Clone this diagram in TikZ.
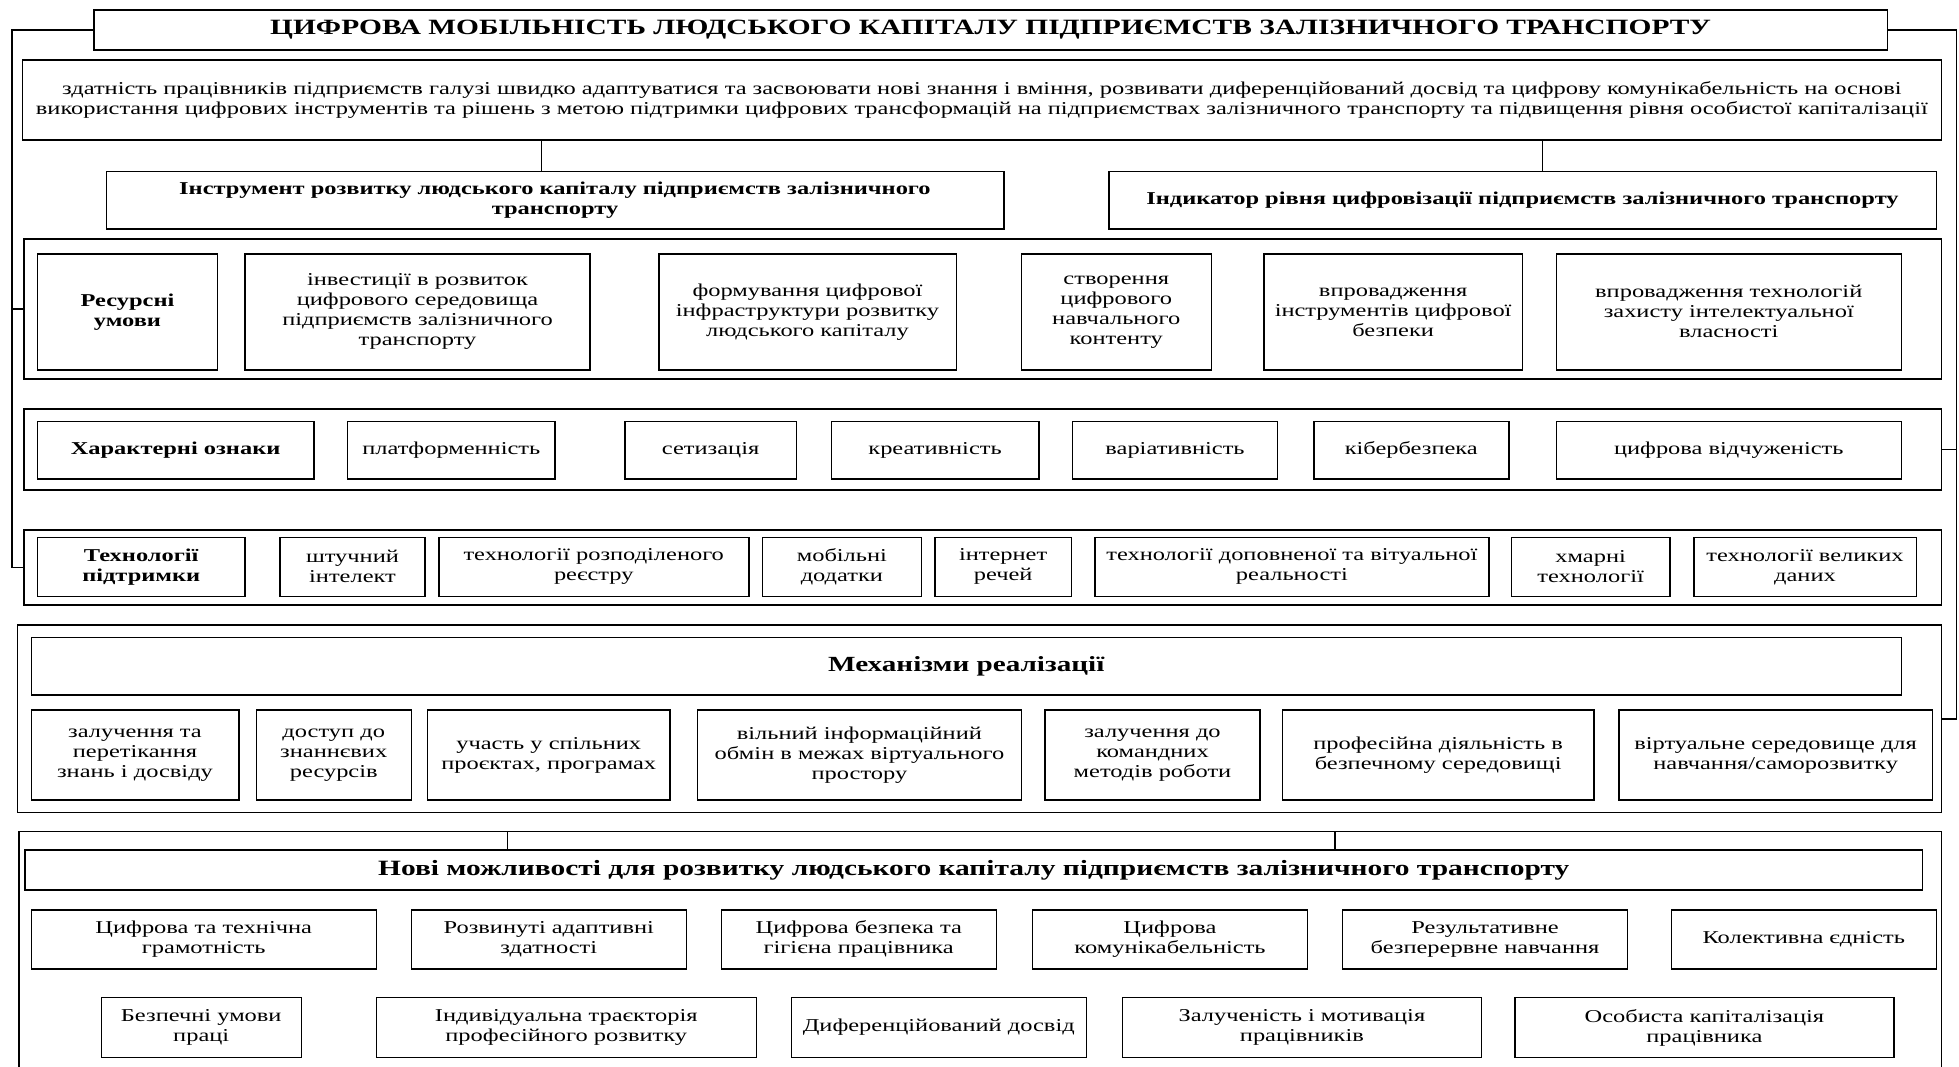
\documentclass[tikz,border=0pt]{standalone}
\usepackage{fontspec}
\setmainfont[FakeStretch=1.35]{Liberation Serif}
\begin{document}
\begin{tikzpicture}[x=1.25pt,y=-1.25pt,
  every node/.style={inner sep=2pt,outer sep=0pt},
  box/.style={draw=black,line width=1.5pt,fill=white,align=center,
    font=\fontsize{18.1}{20}\selectfont},
  bbox/.style={box,font=\fontsize{18.1}{20}\selectfont\bfseries},
  link/.style={draw=black,line width=1.5pt}]
\newcommand\bx[7][]{%
  \pgfmathsetmacro\cx{(#3+#5)/2}\pgfmathsetmacro\cy{(#4+#6)/2}%
  \pgfmathsetmacro\ww{(#5-#3)*1.25}\pgfmathsetmacro\hh{(#6-#4)*1.25}%
  \node[box,#1,minimum width=\ww pt,minimum height=\hh pt] (#2) at (\cx,\cy) {#7};}
\useasboundingbox (0,0) rectangle (1567.2,852.8);

% header and definition
\bx[bbox,font=\fontsize{21.8}{24}\selectfont\bfseries]{title}{75}{8}{1510}{40}{ЦИФРОВА МОБІЛЬНІСТЬ ЛЮДСЬКОГО КАПІТАЛУ ПІДПРИЄМСТВ ЗАЛІЗНИЧНОГО ТРАНСПОРТУ}
\bx{def}{18}{48}{1553}{112}{здатність працівників підприємств галузі швидко адаптуватися та засвоювати нові знання і вміння, розвивати диференційований досвід та цифрову комунікабельність на основі\\використання цифрових інструментів та рішень з метою підтримки цифрових трансформацій на підприємствах залізничного транспорту та підвищення рівня особистої капіталізації}
\bx[bbox]{instr}{85}{137}{803}{183}{Інструмент розвитку людського капіталу підприємств залізничного\\транспорту}
\bx[bbox]{indic}{887}{137}{1549}{183}{Індикатор рівня цифровізації підприємств залізничного транспорту}

% resource conditions
\bx{res}{19}{191}{1553}{303}{}
\bx[bbox]{res0}{30}{203}{174}{296}{Ресурсні\\умови}
\bx{res1}{196}{203}{472}{296}{інвестиції в розвиток\\цифрового середовища\\підприємств залізничного\\транспорту}
\bx{res2}{527}{203}{765}{296}{формування цифрової\\інфраструктури розвитку\\людського капіталу}
\bx{res3}{817}{203}{969}{296}{створення\\цифрового\\навчального\\контенту}
\bx{res4}{1011}{203}{1218}{296}{впровадження\\інструментів цифрової\\безпеки}
\bx{res5}{1245}{203}{1521}{296}{впровадження технологій\\захисту інтелектуальної\\власності}

% characteristic features
\bx{chr}{19}{327}{1553}{392}{}
\bx[bbox]{chr0}{30}{337}{251}{383}{Характерні ознаки}
\bx{chr1}{278}{337}{444}{383}{платформенність}
\bx{chr2}{500}{337}{637}{383}{сетизація}
\bx{chr3}{665}{337}{831}{383}{креативність}
\bx{chr4}{858}{337}{1022}{383}{варіативність}
\bx{chr5}{1051}{337}{1207}{383}{кібербезпека}
\bx{chr6}{1245}{337}{1521}{383}{цифрова відчуженість}

% supporting technologies
\bx{tec}{19}{424}{1553}{484}{}
\bx[bbox]{tec0}{30}{430}{196}{477}{Технології\\підтримки}
\bx{tec1}{224}{430}{340}{477}{штучний\\інтелект}
\bx{tec2}{351}{430}{599}{477}{технології розподіленого\\реєстру}
\bx{tec3}{610}{430}{737}{477}{мобільні\\додатки}
\bx{tec4}{748}{430}{857}{477}{інтернет\\речей}
\bx{tec5}{876}{430}{1191}{477}{технології доповненої та вітуальної\\реальності}
\bx{tec6}{1209}{430}{1336}{477}{хмарні\\технології}
\bx{tec7}{1355}{430}{1533}{477}{технології великих\\даних}

% implementation mechanisms
\bx{mec}{14}{500}{1553}{650}{}
\bx[bbox,font=\fontsize{21.6}{24}\selectfont\bfseries]{mech}{25}{510}{1521}{556}{Механізми реалізації}
\bx{mec1}{25}{568}{191}{640}{залучення та\\перетікання\\знань і досвіду}
\bx{mec2}{205}{568}{329}{640}{доступ до\\знаннєвих\\ресурсів}
\bx{mec3}{342}{568}{536}{640}{участь у спільних\\проєктах, програмах}
\bx{mec4}{558}{568}{817}{640}{вільний інформаційний\\обмін в межах віртуального\\простору}
\bx{mec5}{836}{568}{1008}{640}{залучення до\\командних\\методів роботи}
\bx{mec6}{1026}{568}{1275}{640}{професійна діяльність в\\безпечному середовищі}
\bx{mec7}{1295}{568}{1546}{640}{віртуальне середовище для\\навчання/саморозвитку}

% new opportunities (frame runs past the lower edge)
\bx{opp}{15}{665}{1553}{870}{}
\bx[bbox,font=\fontsize{21.8}{24}\selectfont\bfseries]{opph}{20}{680}{1538}{712}{Нові можливості для розвитку людського капіталу підприємств залізничного транспорту}
\bx{op1}{25}{728}{301}{775}{Цифрова та технічна\\грамотність}
\bx{op2}{329}{728}{549}{775}{Розвинуті адаптивні\\здатності}
\bx{op3}{577}{728}{797}{775}{Цифрова безпека та\\гігієна працівника}
\bx{op4}{826}{728}{1046}{775}{Цифрова\\комунікабельність}
\bx{op5}{1074}{728}{1302}{775}{Результативне\\безперервне навчання}
\bx{op6}{1337}{728}{1549}{775}{Колективна єдність}
\bx{op7}{81}{798}{241}{846}{Безпечні умови\\праці}
\bx{op8}{301}{798}{605}{846}{Індивідуальна траєкторія\\професійного розвитку}
\bx{op9}{633}{798}{869}{846}{Диференційований досвід}
\bx{op10}{898}{798}{1185}{846}{Залученість і мотивація\\працівників}
\bx{op11}{1212}{798}{1515}{846}{Особиста капіталізація\\працівника}

% connectors
\coordinate (lt) at (9.6,0);
\coordinate (rt) at (1565,0);
\draw[link] (title.west) -| (lt |- tec.west) -- (tec.west);
\draw[link] (lt |- res.west) -- (res.west);
\draw[link] (title.east) -| (rt |- mec.east) -- (mec.east);
\draw[link] (rt |- chr.east) -- (chr.east);
\coordinate (da) at (433,0);
\coordinate (db) at (1234,0);
\draw[link] (def.south -| da) -- (instr.north -| da);
\draw[link] (def.south -| db) -- (indic.north -| db);
\coordinate (oa) at (406,0);
\coordinate (ob) at (1068,0);
\draw[link] (opp.north -| oa) -- (opph.north -| oa);
\draw[link] (opp.north -| ob) -- (opph.north -| ob);
\end{tikzpicture}
\end{document}
